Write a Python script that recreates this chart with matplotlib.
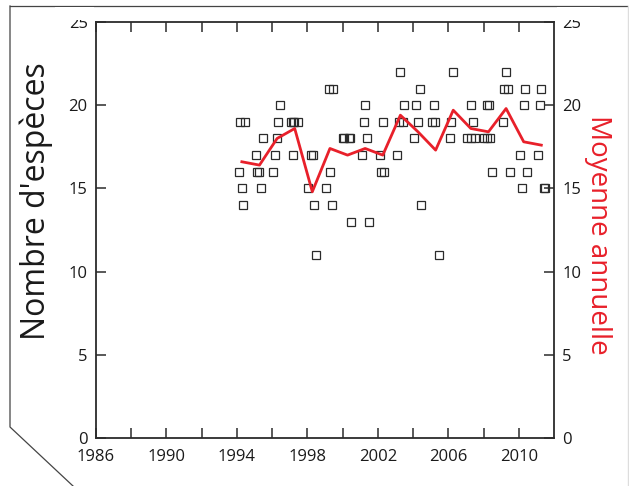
import numpy as np
import matplotlib
matplotlib.use("Agg")
import matplotlib.pyplot as plt
from matplotlib.lines import Line2D
from matplotlib.patches import Rectangle

plt.rcParams['font.family'] = ['Open Sans', 'DejaVu Sans']

# observations (fractional year, number of species)
obs_x = [1994.09, 1994.18, 1994.28, 1994.37, 1994.47,
         1995.09, 1995.16, 1995.28, 1995.37, 1995.47,
         1996.07, 1996.17, 1996.27, 1996.36, 1996.45,
         1997.05, 1997.18, 1997.20, 1997.26, 1997.47,
         1998.06, 1998.20, 1998.31, 1998.39, 1998.48,
         1999.07, 1999.20, 1999.30, 1999.39, 1999.48,
         2000.00, 2000.09, 2000.34, 2000.43, 2000.49,
         2001.10, 2001.19, 2001.28, 2001.38, 2001.47,
         2002.10, 2002.18, 2002.29, 2002.36,
         2003.08, 2003.22, 2003.27, 2003.43, 2003.46,
         2004.07, 2004.16, 2004.28, 2004.37, 2004.47,
         2005.07, 2005.16, 2005.26, 2005.49,
         2006.07, 2006.17, 2006.27,
         2007.07, 2007.26, 2007.29, 2007.40, 2007.50,
         2008.00, 2008.18, 2008.20, 2008.29, 2008.39, 2008.48,
         2009.09, 2009.14, 2009.28, 2009.37, 2009.48,
         2010.09, 2010.19, 2010.28, 2010.38, 2010.47,
         2011.10, 2011.19, 2011.28, 2011.41, 2011.51]
obs_y = [16, 19, 15, 14, 19,
         17, 16, 16, 15, 18,
         16, 17, 18, 19, 20,
         19, 17, 19, 19, 19,
         15, 17, 17, 14, 11,
         15, 21, 16, 14, 21,
         18, 18, 18, 18, 13,
         17, 19, 20, 18, 13,
         17, 16, 19, 16,
         17, 19, 22, 19, 20,
         18, 20, 19, 21, 14,
         19, 20, 19, 11,
         18, 19, 22,
         18, 18, 20, 19, 18,
         18, 18, 20, 20, 18, 16,
         19, 21, 22, 21, 16,
         17, 15, 20, 21, 16,
         17, 20, 21, 15, 15]

# annual mean
mean_x = [1994.28, 1995.28, 1996.28, 1997.28, 1998.28, 1999.28, 2000.28,
          2001.28, 2002.28, 2003.28, 2004.28, 2005.28, 2006.28, 2007.28,
          2008.28, 2009.28, 2010.28, 2011.28]
mean_y = [16.6, 16.4, 18.0, 18.6, 14.8, 17.4, 17.0, 17.4, 17.0, 19.4,
          18.4, 17.3, 19.7, 18.6, 18.4, 19.8, 17.8, 17.6]

xticks_lab = [1986, 1990, 1994, 1998, 2002, 2006, 2010]
xticks_min = [1988, 1992, 1996, 2000, 2004, 2008]
yticks = [0, 5, 10, 15, 20, 25]

dark = '#2b2b2b'
red = '#e8202a'

fig = plt.figure(figsize=(6.29, 4.86), dpi=100)
ax = fig.add_axes([96/629, 48/486, 458/629, 416/486])

ax.plot(obs_x, obs_y, 's', ms=6.2, mfc='none', mec=dark, mew=0.9, zorder=3)
ax.plot(mean_x, mean_y, '-', color=red, lw=2.0, zorder=4)

ax.set_xlim(1986, 2012)
ax.set_ylim(0, 25)
ax.set_xticks(xticks_lab)
ax.set_xticks(xticks_min, minor=True)
ax.set_yticks(yticks)

for s in ax.spines.values():
    s.set_color(dark)
    s.set_linewidth(1.3)

ax.tick_params(which='both', direction='in', length=7, width=1.1, color=dark,
               top=True, right=True, labelsize=12, labelcolor='#1a1a1a')
ax.tick_params(axis='y', labelright=True, pad=6)
ax.tick_params(axis='x', pad=8)

ax.text(-0.131, 0.57, "Nombre d'espèces", transform=ax.transAxes, rotation=90,
        ha='center', va='center', fontsize=23, color='#1a1a1a')
ax.text(1.096, 0.488, "Moyenne annuelle", transform=ax.transAxes, rotation=270,
        ha='center', va='center', fontsize=20, color=red)

# page frame around the figure
fig.add_artist(Line2D([10/629, 627/629], [1 - 6/486, 1 - 6/486],
                      transform=fig.transFigure, color='#444444', lw=0.9))
fig.add_artist(Line2D([10/629, 10/629, 73/629], [1 - 6/486, 1 - 427/486, 0],
                      transform=fig.transFigure, color='#444444', lw=0.9))
fig.add_artist(Line2D([627.5/629, 627.5/629], [1 - 6/486, 0],
                      transform=fig.transFigure, color='#dddddd', lw=1.0))

# top of the "25" labels is cut off in the original
for x0, x1 in [(55, 94), (557, 600)]:
    fig.add_artist(Rectangle((x0/629, 1 - 20.5/486), (x1 - x0)/629, 13/486,
                             transform=fig.transFigure, facecolor='white',
                             edgecolor='none', zorder=10))

fig.savefig('out.png', dpi=100)
